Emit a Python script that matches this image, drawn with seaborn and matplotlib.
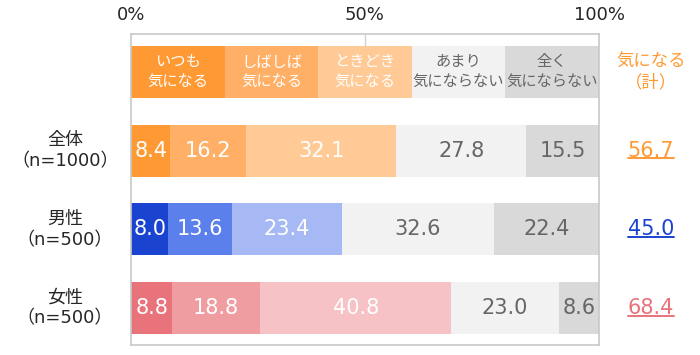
import numpy as np
import pandas as pd
import seaborn as sns
import matplotlib.pyplot as plt
from matplotlib.lines import Line2D
import matplotlib.transforms as mtransforms

# data
rows = ["header", "全体", "男性", "女性"]
row_labels = ["", "全体\n（n=1000）", "男性\n（n=500）", "女性\n（n=500）"]
categories = ["いつも\n気になる", "しばしば\n気になる", "ときどき\n気になる", "あまり\n気にならない", "全く\n気にならない"]
header_vals = [20, 20, 20, 20, 20]
all_vals = [8.4, 16.2, 32.1, 27.8, 15.5]
male_vals = [8.0, 13.6, 23.4, 32.6, 22.4]
female_vals = [8.8, 18.8, 40.8, 23.0, 8.6]
totals = ["56.7", "45.0", "68.4"]

orange = ["#FF9933", "#FFAF66", "#FFCA96", "#F2F2F2", "#D9D9D9"]
blue = ["#1A44D0", "#5B80EC", "#A6B9F5", "#F2F2F2", "#D9D9D9"]
pink = ["#E8737B", "#F09DA2", "#F6C2C6", "#F2F2F2", "#D9D9D9"]
row_colors = [orange, orange, blue, pink]
total_colors = ["#FF9933", "#1A44D0", "#E8737B"]
gray_text = "#666666"

sns.set_style("white")
# DejaVu for the digits (wide, like the original), Noto CJK for the Japanese
plt.rcParams['font.family'] = ['DejaVu Sans', 'Noto Sans CJK JP']

vals = np.array([header_vals, all_vals, male_vals, female_vals])
cum = vals.cumsum(axis=1)

fig = plt.figure(figsize=(7, 3.55), dpi=100)
ax = fig.add_axes([131 / 700, 10 / 355, 468 / 700, 311 / 355])

# stacked bars: draw cumulative totals from the right, each layer covering the previous one
for k in range(len(categories) - 1, -1, -1):
    df = pd.DataFrame({"row": rows, "cum": cum[:, k]})
    pal = {r: row_colors[i][k] for i, r in enumerate(rows)}
    sns.barplot(data=df, x="cum", y="row", hue="row", palette=pal, order=rows,
                orient="h", width=0.66, saturation=1, linewidth=0, legend=False, ax=ax)

ax.set_xlim(0, 100)
ax.set_ylim(3.47, -0.48)
ax.set_xlabel("")
ax.set_ylabel("")
ax.set_yticks([])
ax.xaxis.tick_top()
ax.set_xticks([0, 50, 100])
ax.set_xticklabels(["0%", "50%", "100%"], fontsize=13)
ax.tick_params(axis="x", length=0, pad=7)
for s in ax.spines.values():
    s.set_color("#C8C8C8")
    s.set_linewidth(1.2)
ax.vlines(50, -0.48, -0.33, color="#D0D0D0", linewidth=1)

# segment labels
for i in range(len(rows)):
    for k in range(len(categories)):
        x = cum[i, k] - vals[i, k] / 2
        color = "white" if k < 3 else gray_text
        if i == 0:
            ax.text(x, i, categories[k], ha="center", va="center", fontsize=11,
                    color=color, linespacing=1.2, family="Noto Sans CJK JP")
        else:
            ax.text(x, i, f"{vals[i, k]:.1f}", ha="center", va="center",
                    fontsize=15, color=color)

# row labels on the left
trans = mtransforms.blended_transform_factory(ax.transAxes, ax.transData)
for i, lab in enumerate(row_labels):
    if lab:
        ax.text(-0.141, i, lab, transform=trans, ha="center", va="center",
                fontsize=13, linespacing=1.25)

# total column on the right
ax.text(1.111, 0, "気になる\n（計）", transform=trans, ha="center", va="center",
        fontsize=12.5, color="#FF9933", linespacing=1.2, family="Noto Sans CJK JP")
tot_texts = []
for i, t in enumerate(totals):
    tt = ax.text(1.111, i + 1, t, transform=trans, ha="center", va="center",
                 fontsize=15, color=total_colors[i])
    tot_texts.append(tt)

fig.canvas.draw()
inv = fig.transFigure.inverted()
for tt, c in zip(tot_texts, total_colors):
    bb = tt.get_window_extent()
    (x0, y0), (x1, _) = inv.transform([(bb.x0, bb.y0), (bb.x1, bb.y1)])
    fig.add_artist(Line2D([x0, x1], [y0 + 0.006, y0 + 0.006], color=c, linewidth=1.4,
                          transform=fig.transFigure))

fig.savefig("out.png", dpi=100)
